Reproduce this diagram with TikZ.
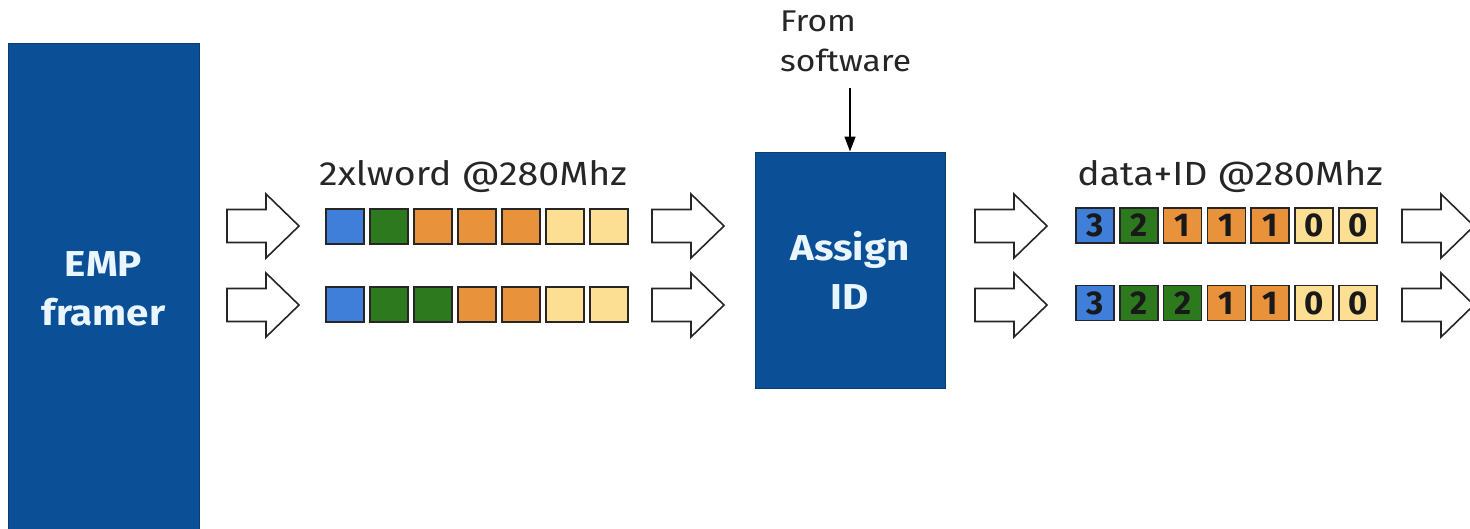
\documentclass[tikz,border=0pt]{standalone}
\usepackage{fontspec}
\setmainfont[FakeStretch=1.12]{Fira Sans}
\newfontfamily\digitfont{Fira Sans}
\usetikzlibrary{arrows.meta}
\definecolor{boxblue}{HTML}{0B4F96}
\definecolor{boxedge}{HTML}{0A3D73}
\definecolor{boxtext}{HTML}{EAF6FF}
\definecolor{sqblue}{HTML}{3F7FD9}
\definecolor{sqgreen}{HTML}{2D7A1E}
\definecolor{sqorange}{HTML}{E8923B}
\definecolor{sqyellow}{HTML}{FDDF93}
\tikzset{
  bigbox/.style={draw=boxedge, line width=1pt, fill=boxblue, text=boxtext, align=center,
    font=\fontsize{36}{49}\selectfont\bfseries, inner sep=0pt},
  cell/.style={draw=black!85, line width=1.5pt, minimum width=38pt, minimum height=35pt, inner sep=0pt,
    font=\digitfont\fontsize{33}{33}\selectfont\bfseries, text=black!90},
  lbl/.style={font=\fontsize{33.5}{37}\selectfont, text=black!85, inner sep=0pt},
  blockarrow/.pic={\draw[line width=1.6pt, fill=white, line join=miter, draw=black!85]
    (0,-16.5) -- (39,-16.5) -- (39,-32) -- (72,0) -- (39,32) -- (39,16.5) -- (0,16.5) -- cycle;}
}
\begin{document}
\begin{tikzpicture}[x=1pt,y=-1pt]
\useasboundingbox (0,0) rectangle (1470,528);
% EMP framer
\node[bigbox, minimum width=191pt, minimum height=492pt] (emp) at (103.5,289) {EMP\\framer};
% Assign ID
\node[bigbox, minimum width=190pt, minimum height=236pt] (assign) at (850,270) {Assign\\ID};
% From software
\node[align=left, anchor=north west, inner sep=0pt, font=\fontsize{30}{40}\selectfont, text=black!85] (from) at (780,11) {From\\software};
\coordinate (swstart) at (850,88);
\draw[line width=1.4pt, -{Triangle[length=15pt,width=11pt]}] (swstart) -- (assign.north);
% block arrows
\foreach \x [count=\k] in {227,652,975,1402}{
  \pic (ar\k a) at (\x,226) {blockarrow};
  \pic (ar\k b) at (\x,305) {blockarrow};
}
% labels
\node[lbl, anchor=base] (lab1) at (473,185) {2xlword @280Mhz};
\node[lbl, anchor=base] (lab2) at (1230,185) {data+ID @280Mhz};
% left cells
\foreach \c [count=\i from 0] in {sqblue,sqgreen,sqorange,sqorange,sqorange,sqyellow,sqyellow}
  \node[cell, fill=\c] (la\i) at (345+44*\i,226.5) {};
\foreach \c [count=\i from 0] in {sqblue,sqgreen,sqgreen,sqorange,sqorange,sqyellow,sqyellow}
  \node[cell, fill=\c] (lb\i) at (345+44*\i,304.5) {};
% right cells
\foreach \c/\n [count=\i from 0] in {sqblue/3,sqgreen/2,sqorange/1,sqorange/1,sqorange/1,sqyellow/0,sqyellow/0}
  \node[cell, fill=\c] (ra\i) at (1095+43.8*\i,225.5) {\n};
\foreach \c/\n [count=\i from 0] in {sqblue/3,sqgreen/2,sqgreen/2,sqorange/1,sqorange/1,sqyellow/0,sqyellow/0}
  \node[cell, fill=\c] (rb\i) at (1095+43.8*\i,303) {\n};
\end{tikzpicture}
\end{document}
